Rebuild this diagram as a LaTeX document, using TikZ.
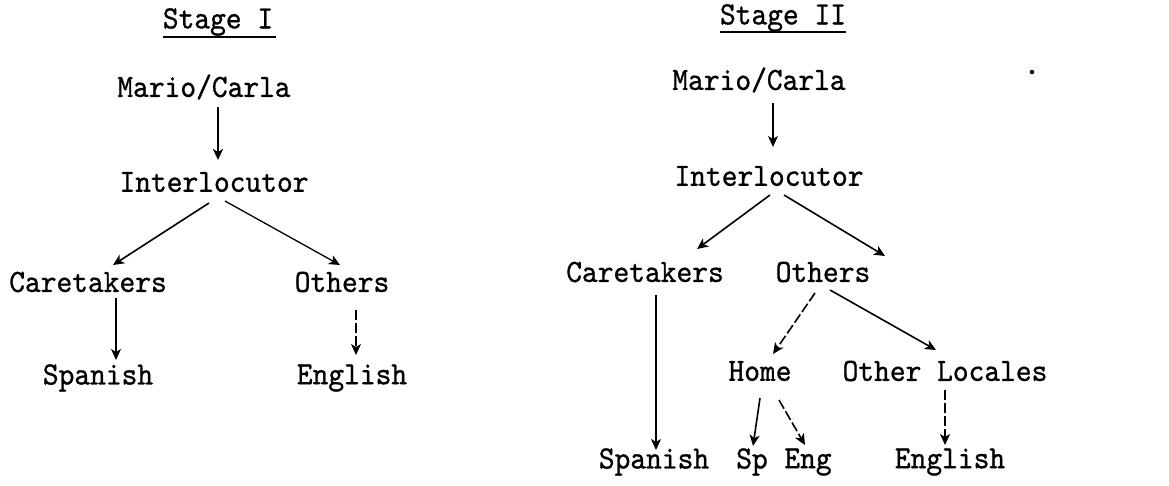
\documentclass[tikz,border=0pt]{standalone}
\usepackage{fontspec}
\newfontfamily\twfont[FakeBold=0.9]{lmmono10-regular.otf}
\usetikzlibrary{calc,arrows.meta}
% typewriter labels, slightly stretched vertically
\newcommand{\tw}[1]{\scalebox{1}[1.08]{\twfont\fontsize{30}{34}\selectfont #1}}
\tikzset{
  lbl/.style={inner sep=0pt},
  link/.style={line width=1.6pt, -{Stealth[length=11pt,width=10pt,inset=3pt]}},
  plain/.style={line width=1.6pt},
  brk/.style={link, dash pattern=on 10pt off 3pt}
}
\begin{document}
\begin{tikzpicture}[x=1pt,y=-1pt]
\useasboundingbox (0,0) rectangle (1169,485);
% ---------- Stage I ----------
\node[lbl] (st1)  at (218,22)  {\tw{Stage I}};
\node[lbl] (mc1)  at (204,87)  {\tw{Mario/Carla}};
\node[lbl] (int1) at (214,182) {\tw{Interlocutor}};
\node[lbl] (care1) at (88,282) {\tw{Caretakers}};
\node[lbl] (oth1) at (342,282) {\tw{Others}};
\node[lbl] (spa1) at (98,378)  {\tw{Spanish}};
\node[lbl] (eng1) at (352,378) {\tw{English}};
\draw[plain] ($(st1)+(-55,15)$) -- ($(st1)+(58,15)$);
\draw[link, line width=2.1pt] ($(mc1)+(14,20)$) -- ($(int1)+(4,-22)$);
\draw[link] ($(int1)+(-5,21)$) -- ($(care1)+(25,-17)$);
\draw[link, line width=1.3pt] ($(int1)+(11,19)$) -- ($(oth1)+(-2,-17)$);
\draw[link, line width=1.3pt] ($(care1)+(28,16)$) -- ($(spa1)+(18,-18)$);
\draw[brk, line width=1.3pt] ($(oth1)+(14,28)$) -- ($(eng1)+(4,-23)$);
% ---------- Stage II ----------
\node[lbl] (st2)  at (783,18)  {\tw{Stage II}};
\node[lbl] (mc2)  at (759,80)  {\tw{Mario/Carla}};
\node[lbl] (int2) at (769,176) {\tw{Interlocutor}};
\node[lbl] (care2) at (645,272) {\tw{Caretakers}};
\node[lbl] (oth2) at (823,272) {\tw{Others}};
\node[lbl] (spa2) at (654,462) {\tw{Spanish}};
\node[lbl] (home) at (760,371) {\tw{Home}};
\node[lbl] (loc)  at (945,371) {\tw{Other Locales}};
\node[lbl] (sp)   at (752,462) {\tw{Sp}};
\node[lbl] (eng2) at (808,462) {\tw{Eng}};
\node[lbl] (eng3) at (950,462) {\tw{English}};
\draw[plain] ($(st2)+(-63,14)$) -- ($(st2)+(63,14)$);
\fill (1032,72) circle (2.2);
\draw[link, line width=1.3pt] ($(mc2)+(14,23)$) -- ($(int2)+(4,-29)$);
\draw[link] ($(int2)+(1,19)$) -- ($(care2)+(52,-23)$);
\draw[link] ($(int2)+(15,19)$) -- ($(oth2)+(62,-16)$);
\draw[link] ($(care2)+(11,23)$) -- ($(spa2)+(2,-12)$);
\draw[brk] ($(oth2)+(-8,21)$) -- ($(home)+(13,-17)$);
\draw[link] ($(oth2)+(7,18)$) -- ($(loc)+(-9,-21)$);
\draw[link] ($(home)+(0,27)$) -- ($(sp)+(1,-16)$);
\draw[brk] ($(home)+(19,29)$) -- ($(eng2)+(-3,-17)$);
\draw[brk, line width=1.3pt] ($(loc)+(0,19)$) -- ($(eng3)+(-5,-17)$);
\end{tikzpicture}
\end{document}
